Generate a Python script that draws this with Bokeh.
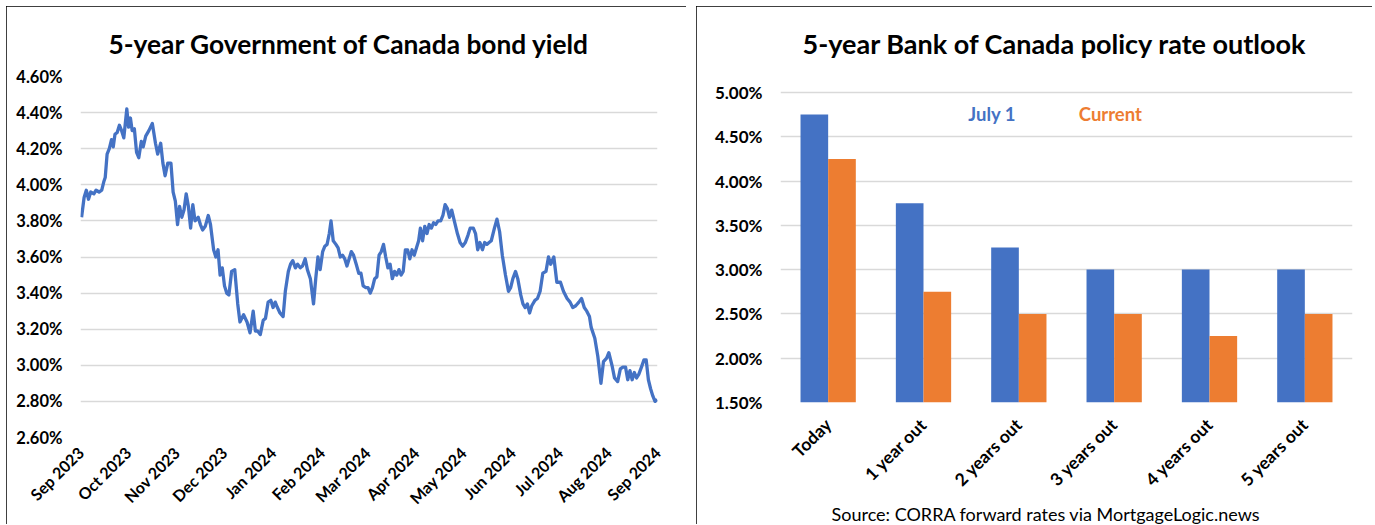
import math
import pandas as pd
from bokeh.plotting import figure
from bokeh.layouts import row, column
from bokeh.models import (FixedTicker, PrintfTickFormatter, MonthsTicker, DatetimeTickFormatter,
                          Label, Range1d, FactorRange, ColumnDataSource, Title, Spacer)
from bokeh.transform import dodge
from bokeh.embed import file_html
from bokeh.resources import INLINE

# ---------------- data: left chart ----------------
start_date = "2023-09-01"
days_since_start = [
    0.6, 2.2, 3.6, 5.0, 6.4, 8.4, 9.8, 11.7, 13.4, 14.8, 15.6, 16.8, 18.2, 19.6, 20.7, 21.8, 23.2, 24.6,
    26.0, 27.4, 29.3, 30.4, 31.6, 32.7, 34.1, 35.5, 36.9, 38.5, 39.7, 41.3, 43.3, 45.5, 47.5, 48.9, 50.8,
    52.2, 53.6, 55.3, 57.3, 58.7, 60.1, 61.5, 62.8, 64.2, 65.6, 67.0, 68.4, 69.8, 71.2, 72.6, 74.6, 76.0,
    77.4, 79.1, 81.0, 82.4, 84.4, 85.8, 87.2, 88.5, 89.9, 91.3, 92.7, 94.1, 95.8, 97.8, 99.7, 101.1, 103.4,
    105.6, 107.5, 109.5, 110.9, 112.3, 114.0, 115.9, 117.3, 119.0, 120.7, 122.1, 123.5, 124.9, 126.5,
    128.5, 129.9, 131.8, 133.2, 134.6, 136.3, 137.7, 139.4, 140.8, 142.5, 143.9, 145.8, 147.8, 149.2,
    150.6, 152.0, 153.6, 155.0, 156.4, 157.8, 158.9, 160.3, 162.0, 163.4, 164.8, 166.2, 167.6, 169.0,
    170.4, 171.8, 173.2, 174.9, 176.5, 177.9, 179.3, 181.0, 182.4, 183.8, 185.2, 186.6, 188.0, 189.4,
    190.8, 192.2, 193.6, 195.0, 196.4, 197.8, 199.2, 200.6, 202.0, 203.4, 204.7, 206.1, 207.5, 208.9,
    210.3, 211.7, 213.1, 214.5, 215.6, 217.0, 218.4, 219.8, 221.2, 222.6, 224.0, 225.4, 226.8, 228.5,
    229.9, 231.3, 232.7, 234.1, 235.5, 237.4, 239.1, 240.8, 242.5, 244.1, 245.8, 247.2, 249.2, 250.6,
    252.0, 253.4, 255.0, 256.4, 257.8, 259.2, 260.6, 262.6, 264.2, 265.9, 267.6, 269.6, 271.5, 272.9,
    274.3, 276.0, 277.4, 279.3, 280.7, 282.1, 283.5, 284.9, 286.3, 288.3, 289.9, 291.6, 293.3, 295.3,
    296.9, 298.3, 300.3, 302.2, 304.5, 306.4, 308.7, 310.6, 312.3, 314.2, 316.2, 317.9, 319.6, 321.2,
    322.9, 324.0, 326.3, 328.2, 330.2, 331.8, 333.8, 335.2, 337.2, 338.8, 340.8, 342.5, 344.1, 345.8,
    347.2, 348.6, 350.0, 351.4, 352.8, 354.2, 355.9, 357.5, 358.9, 360.3, 361.7, 363.1, 364.5, 365.9,
]
yield_pct = [
    3.82, 3.93, 3.97, 3.92, 3.96, 3.95, 3.97, 3.96, 3.97, 4.02, 4.04, 4.17, 4.20, 4.25, 4.21, 4.28, 4.29, 4.33,
    4.30, 4.26, 4.42, 4.32, 4.37, 4.30, 4.31, 4.18, 4.15, 4.24, 4.21, 4.27, 4.30, 4.34, 4.23, 4.17, 4.23,
    4.12, 4.05, 4.12, 4.12, 3.96, 3.91, 3.78, 3.88, 3.82, 3.86, 3.95, 3.88, 3.76, 3.89, 3.80, 3.82, 3.78,
    3.75, 3.77, 3.83, 3.78, 3.64, 3.60, 3.64, 3.50, 3.54, 3.44, 3.40, 3.39, 3.52, 3.53, 3.34, 3.24, 3.28,
    3.24, 3.18, 3.30, 3.19, 3.19, 3.17, 3.25, 3.26, 3.35, 3.36, 3.32, 3.35, 3.32, 3.29,
    3.27, 3.41, 3.52, 3.56, 3.58, 3.54, 3.56, 3.54, 3.55, 3.59, 3.53, 3.48, 3.34, 3.48,
    3.60, 3.53, 3.63, 3.66, 3.67, 3.73, 3.80, 3.69, 3.67, 3.65, 3.60, 3.61, 3.59, 3.55,
    3.59, 3.63, 3.61, 3.56, 3.51, 3.51, 3.44, 3.43, 3.43, 3.40, 3.43, 3.48, 3.49, 3.61,
    3.63, 3.67, 3.60, 3.54, 3.56, 3.48, 3.52, 3.50, 3.53, 3.50, 3.52, 3.64, 3.64, 3.59,
    3.64, 3.61, 3.65, 3.69, 3.76, 3.69, 3.77, 3.73, 3.78, 3.76, 3.79, 3.78, 3.80, 3.80,
    3.83, 3.89, 3.87, 3.82, 3.86, 3.79, 3.73, 3.68, 3.66, 3.68, 3.72, 3.76, 3.76, 3.73,
    3.64, 3.68, 3.64, 3.68, 3.67, 3.68, 3.69, 3.76, 3.81, 3.74, 3.61, 3.50, 3.41, 3.43,
    3.48, 3.52, 3.48, 3.39, 3.34, 3.32, 3.34, 3.29, 3.33, 3.36, 3.37, 3.41, 3.51, 3.52,
    3.60, 3.56, 3.60, 3.46, 3.46, 3.41, 3.37, 3.35, 3.32, 3.33, 3.35, 3.37, 3.32, 3.30,
    3.27, 3.21, 3.15, 3.05, 2.90, 3.02, 3.04, 3.07, 3.00, 2.93, 2.91, 2.98, 2.99, 2.99,
    2.92, 2.97, 2.92, 2.96, 2.93, 2.95, 2.99, 3.03, 3.03, 2.92, 2.87, 2.83, 2.80, 2.81,
]
left_y_ticks = [2.6, 2.8, 3.0, 3.2, 3.4, 3.6, 3.8, 4.0, 4.2, 4.4, 4.6]
left_title = "5-year Government of Canada bond yield"

# ---------------- data: right chart ----------------
categories = ["Today", "1 year out", "2 years out", "3 years out", "4 years out", "5 years out"]
july1 = [4.75, 3.75, 3.25, 3.00, 3.00, 3.00]
current = [4.25, 2.75, 2.50, 2.50, 2.25, 2.50]
right_y_ticks = [1.5, 2.0, 2.5, 3.0, 3.5, 4.0, 4.5, 5.0]
right_title = "5-year Bank of Canada policy rate outlook"
source_note = "Source: CORRA forward rates via MortgageLogic.news"

BLUE = "#4472C4"
ORANGE = "#ED7D31"
GRID = "#d9d9d9"
FONT = "Lato"
PANEL_STYLE = {"outline": "2px solid black", "outline-offset": "-2px"}


def style_axes(p):
    for ax in (p.xaxis, p.yaxis):
        ax.axis_line_color = None
        ax.major_tick_line_color = None
        ax.minor_tick_line_color = None
        ax.major_tick_out = 0
        ax.major_tick_in = 0
        ax.minor_tick_out = 0
        ax.minor_tick_in = 0
        ax.major_label_text_font = FONT
        ax.major_label_text_font_style = "bold"
        ax.major_label_text_color = "black"
    p.xgrid.visible = False
    p.ygrid.grid_line_color = GRID
    p.ygrid.grid_line_width = 1.5
    p.outline_line_color = None


def set_title(p, text, offset, size):
    p.title.text = text
    p.title.align = "left"
    p.title.vertical_align = "bottom"
    p.title.offset = offset
    p.title.standoff = 34
    p.title.text_font = FONT
    p.title.text_font_style = "bold"
    p.title.text_font_size = size
    p.title.text_color = "black"


# ---------------- left figure ----------------
t0 = pd.Timestamp(start_date)
dates = t0 + pd.to_timedelta(days_since_start, unit="D")
x_start = t0 - pd.Timedelta(hours=2)
x_end = pd.Timestamp("2024-09-01") + pd.Timedelta(hours=2)

p1 = figure(width=680, height=518, x_axis_type="datetime", output_backend="svg", toolbar_location=None,
            x_range=Range1d(x_start, x_end), y_range=Range1d(2.6, 4.6),
            min_border_left=74, min_border_right=29, min_border_top=70, min_border_bottom=87,
            background_fill_color="white", border_fill_color="white", styles=PANEL_STYLE)
p1.frame_align = False
style_axes(p1)
set_title(p1, left_title, 28, "26.3px")
p1.yaxis.ticker = FixedTicker(ticks=left_y_ticks)
p1.yaxis.formatter = PrintfTickFormatter(format="%.2f%%")
p1.yaxis.major_label_text_font_size = "16.5px"
p1.yaxis.major_label_standoff = 18
p1.xaxis.ticker = MonthsTicker(months=list(range(12)))
p1.xaxis.formatter = DatetimeTickFormatter(months="%b %Y", days="%b %Y", years="%b %Y",
                                           hours="%b %Y", minutes="%b %Y")
p1.xaxis.major_label_orientation = math.pi / 4
p1.xaxis.major_label_text_font_size = "16px"
p1.xaxis.major_label_standoff = 12

p1.line(dates, yield_pct, line_color=BLUE, line_width=3.3, line_join="round")

# ---------------- right figure ----------------
src = ColumnDataSource(dict(cat=categories, july1=july1, current=current))
p2 = figure(width=676, height=518, x_range=FactorRange(*categories), y_range=Range1d(1.5, 5.18),
            output_backend="svg", toolbar_location=None,
            min_border_left=84, min_border_right=20, min_border_top=70, min_border_bottom=121,
            background_fill_color="white", border_fill_color="white", styles=PANEL_STYLE)
p2.frame_align = False
style_axes(p2)
set_title(p2, right_title, 22, "27px")
p2.yaxis.ticker = FixedTicker(ticks=right_y_ticks)
p2.yaxis.formatter = PrintfTickFormatter(format="%.2f%%")
p2.yaxis.major_label_text_font_size = "17px"
p2.yaxis.major_label_standoff = 18
p2.xaxis.major_label_orientation = math.pi / 4
p2.xaxis.major_label_text_font_size = "17.5px"
p2.xaxis.major_label_standoff = 19

p2.vbar(x=dodge("cat", -0.145, range=p2.x_range), top="july1", bottom=1.5, width=0.29,
        fill_color=BLUE, line_color=None, source=src)
p2.vbar(x=dodge("cat", 0.145, range=p2.x_range), top="current", bottom=1.5, width=0.29,
        fill_color=ORANGE, line_color=None, source=src)

p2.add_layout(Label(x=2.22, y=4.76, text="July 1", text_align="center", text_baseline="middle",
                    text_font=FONT, text_font_style="bold", text_font_size="18.5px", text_color=BLUE))
p2.add_layout(Label(x=3.46, y=4.76, text="Current", text_align="center", text_baseline="middle",
                    text_font=FONT, text_font_style="bold", text_font_size="18.5px", text_color=ORANGE))
p2.add_layout(Title(text=source_note, align="left", offset=51, standoff=0, text_font=FONT,
                    text_font_style="normal", text_font_size="18px", text_color="black"), "below")

layout = column(Spacer(height=6),
                row(Spacer(width=6), p1, Spacer(width=10), p2, spacing=0),
                spacing=0)
open("out.html", "w").write(file_html(layout, INLINE))
